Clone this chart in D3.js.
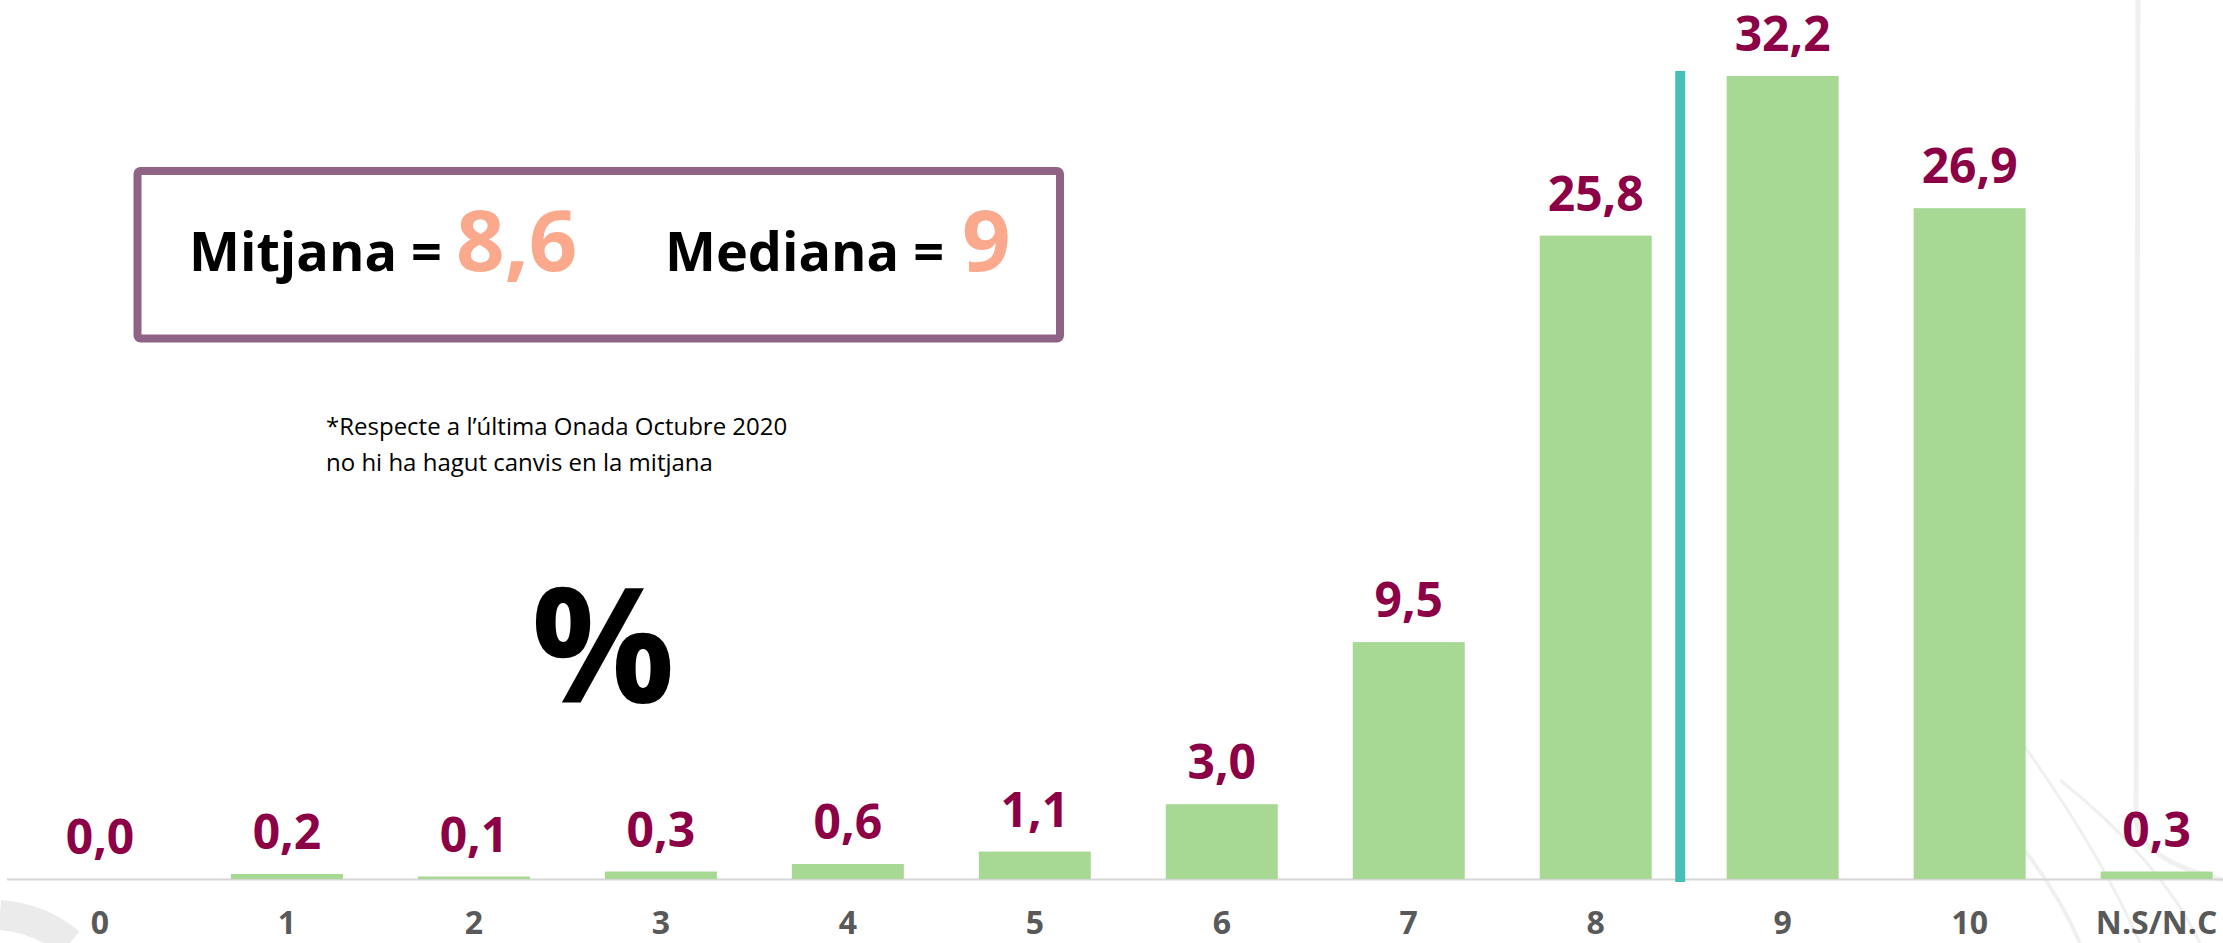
<!DOCTYPE html>
<html>
<head>
<meta charset="utf-8">
<script src="https://cdn.jsdelivr.net/npm/d3@7"></script>
<style>
  body { margin: 0; background: #ffffff; }
  svg { display: block; font-family: 'Open Sans', sans-serif; }
  .bar { fill: #a8d994; }
  .bar-label { fill: #8c0046; font-weight: 700; font-size: 48px; text-anchor: middle; }
  .x-axis text { fill: #595959; font-weight: 700; font-size: 32px; font-family: 'Open Sans', sans-serif; }
  .x-axis path { stroke: #d6d6d6; stroke-width: 2; }
</style>
</head>
<body>
<div id="chart-div"></div>
<script>
const WIDTH = 2223;
const HEIGHT = 943;

// data
const categories = ['0', '1', '2', '3', '4', '5', '6', '7', '8', '9', '10', 'N.S/N.C'];
const percentages = [0.0, 0.2, 0.1, 0.3, 0.6, 1.1, 3.0, 9.5, 25.8, 32.2, 26.9, 0.3];
const summaryLabels = ['Mitjana =', 'Mediana ='];
const summaryValues = ['8,6', '9'];
const noteLines = ['*Respecte a l\u2019última Onada Octubre 2020', 'no hi ha hagut canvis en la mitjana'];
const medianAfter = '8';     // marker sits in the gap after this category
const medianTop = 32.4;      // marker top, in % units

const svg = d3.select('#chart-div')
  .append('svg')
  .attr('width', WIDTH)
  .attr('height', HEIGHT);

svg.append('rect')
  .attr('width', WIDTH)
  .attr('height', HEIGHT)
  .attr('fill', '#ffffff');

// faint background swirls
const deco = svg.append('g').attr('fill', 'none').attr('stroke', '#f0f0f0');
deco.append('path').attr('d', 'M0,915 Q40,918 70,943').attr('stroke-width', 30).attr('stroke', '#e2e2e2').attr('opacity', 0.7);
deco.append('path').attr('d', 'M2138,0 L2136,820 Q2140,860 2223,880').attr('stroke-width', 5);
deco.append('path').attr('d', 'M1940,760 Q2040,850 2080,943').attr('stroke-width', 4);
deco.append('path').attr('d', 'M1990,700 Q2090,830 2140,943').attr('stroke-width', 3);
deco.append('path').attr('d', 'M2060,780 Q2160,860 2200,943').attr('stroke-width', 3);

const xScale = d3.scaleBand()
  .domain(categories)
  .range([6.6, 2250])
  .paddingInner(0.401)
  .paddingOuter(0.2);

const yScale = d3.scaleLinear()
  .domain([0, 32.2])
  .range([879, 76]);

// axis (domain line = baseline)
const xAxis = svg.append('g')
  .attr('class', 'x-axis')
  .attr('transform', `translate(0,${yScale(0)})`)
  .call(d3.axisBottom(xScale).tickSize(0).tickSizeOuter(0));

xAxis.selectAll('text')
  .attr('y', 55)
  .attr('dy', 0);

// bars
const data = categories.map((c, i) => ({ cat: c, value: percentages[i] }));

svg.append('g')
  .selectAll('rect')
  .data(data)
  .join('rect')
  .attr('class', 'bar')
  .attr('x', d => xScale(d.cat))
  .attr('y', d => yScale(d.value))
  .attr('width', xScale.bandwidth())
  .attr('height', d => yScale(0) - yScale(d.value));

svg.append('g')
  .selectAll('text')
  .data(data)
  .join('text')
  .attr('class', 'bar-label')
  .attr('x', d => xScale(d.cat) + xScale.bandwidth() / 2)
  .attr('y', d => yScale(d.value) - 25)
  .text(d => d.value.toFixed(1).replace('.', ','));

// median marker
const gap = xScale.step() - xScale.bandwidth();
const markerX = xScale(medianAfter) + xScale.bandwidth() + gap * 0.38;
svg.append('line')
  .attr('x1', markerX)
  .attr('x2', markerX)
  .attr('y1', yScale(medianTop))
  .attr('y2', yScale(0) + 3)
  .attr('stroke', '#46c0b6')
  .attr('stroke-width', 10);

// summary box
svg.append('rect')
  .attr('x', 137.5)
  .attr('y', 171)
  .attr('width', 922.5)
  .attr('height', 167.5)
  .attr('rx', 3)
  .attr('fill', '#ffffff')
  .attr('stroke', '#8f6385')
  .attr('stroke-width', 8);

const labelX = [189, 665];
const valueX = [456, 962];
summaryLabels.forEach((lab, i) => {
  svg.append('text')
    .attr('x', labelX[i])
    .attr('y', 271)
    .attr('font-size', 54)
    .attr('font-weight', 700)
    .attr('fill', '#000000')
    .text(lab);
  svg.append('text')
    .attr('x', valueX[i])
    .attr('y', 271)
    .attr('font-size', 85)
    .attr('font-weight', 700)
    .attr('fill', '#fba98c')
    .text(summaryValues[i]);
});

// note
svg.append('g')
  .selectAll('text')
  .data(noteLines)
  .join('text')
  .attr('x', 326)
  .attr('y', (d, i) => 435 + i * 36)
  .attr('font-size', 24)
  .attr('fill', '#000000')
  .text(d => d);

// big percent sign
svg.append('text')
  .attr('x', 603)
  .attr('y', 703)
  .attr('text-anchor', 'middle')
  .attr('font-size', 160)
  .attr('font-weight', 700)
  .attr('fill', '#000000')
  .text('%');
</script>
</body>
</html>
